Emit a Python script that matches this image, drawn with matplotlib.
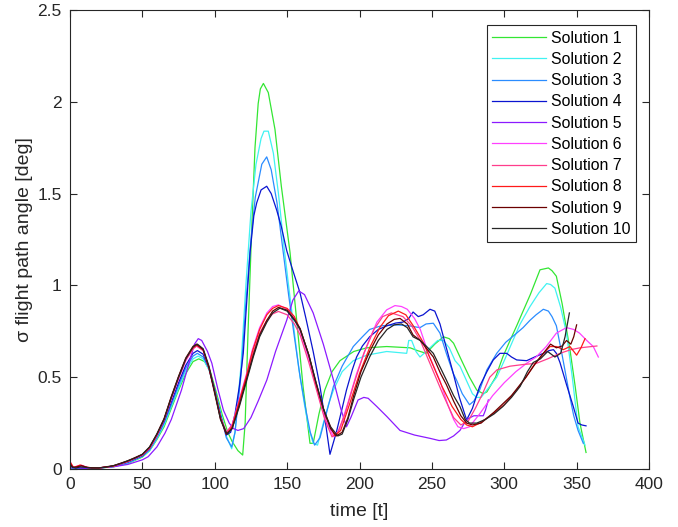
import matplotlib.pyplot as plt

plt.rcParams['font.family'] = ['Liberation Sans', 'DejaVu Sans']

# (time, sigma) pairs
sol1 = [(0, 0.005), (10, 0.004), (20, 0.005), (30, 0.012), (40, 0.03), (50, 0.065), (55, 0.10), (60, 0.16),
        (65, 0.23), (70, 0.33), (75, 0.43), (80, 0.52), (85, 0.585), (89, 0.60), (93, 0.585), (97, 0.53),
        (101, 0.42), (105, 0.30), (109, 0.20), (112, 0.15), (116, 0.10), (119.3, 0.076), (121, 0.25),
        (123, 0.75), (125.5, 1.30), (127.8, 1.75), (130, 1.99), (131.5, 2.07), (133.6, 2.10), (137, 2.05),
        (141.6, 1.85), (146, 1.54), (152, 1.18), (156.6, 0.81), (161, 0.45), (165.8, 0.14), (168, 0.14),
        (172, 0.30), (176, 0.43), (181, 0.53), (186.5, 0.59), (196, 0.64), (205, 0.66), (218.8, 0.667),
        (235, 0.66), (240, 0.645), (246, 0.63), (252, 0.68), (258, 0.72), (262, 0.71), (265, 0.685),
        (270, 0.60), (276, 0.50), (281, 0.43), (285.5, 0.41), (288, 0.42), (294, 0.50), (299, 0.61),
        (304, 0.70), (308.6, 0.78), (313, 0.86), (318, 0.95), (324.7, 1.085), (330.5, 1.095), (333, 1.08),
        (336, 1.05), (340, 0.90), (345.4, 0.65), (349, 0.45), (352.3, 0.25), (356.5, 0.09)]

sol2 = [(0, 0.005), (10, 0.004), (20, 0.005), (30, 0.013), (40, 0.032), (50, 0.068), (55, 0.10), (60, 0.165),
        (65, 0.24), (70, 0.34), (75, 0.44), (80, 0.535), (85, 0.60), (88.5, 0.615), (92, 0.60), (96, 0.54),
        (100, 0.43), (104, 0.31), (108, 0.18), (111.7, 0.11), (114, 0.20), (118, 0.55), (121.5, 1.0),
        (125, 1.40), (128.5, 1.66), (132, 1.80), (134, 1.84), (137, 1.84), (140.5, 1.72), (144, 1.50),
        (148, 1.20), (151, 1.00), (154, 0.81), (158, 0.55), (162, 0.35), (165, 0.22), (168, 0.14),
        (171, 0.13), (175, 0.25), (178.5, 0.35), (182, 0.43), (188, 0.53), (195.7, 0.59), (205, 0.62),
        (218.8, 0.64), (232.6, 0.63), (234, 0.70), (236, 0.70), (239, 0.64), (241.8, 0.61), (246, 0.64),
        (250, 0.67), (254, 0.70), (258, 0.70), (262, 0.66), (266, 0.59), (269.4, 0.56), (274, 0.48),
        (278, 0.41), (281, 0.39), (284, 0.39), (289, 0.44), (294.8, 0.50), (300, 0.59), (306, 0.70),
        (311, 0.79), (317.8, 0.885), (324, 0.96), (329.3, 1.01), (332, 1.005), (335, 0.985), (339, 0.88),
        (343, 0.74), (347, 0.50), (351, 0.23), (355.8, 0.13)]

sol3 = [(0, 0.006), (10, 0.004), (20, 0.005), (30, 0.014), (40, 0.035), (50, 0.07), (55, 0.105), (60, 0.17),
        (65, 0.25), (70, 0.35), (75, 0.455), (80, 0.55), (85, 0.615), (88, 0.63), (92, 0.61), (96, 0.55),
        (100, 0.43), (104, 0.30), (108, 0.17), (111.7, 0.12), (114, 0.20), (118, 0.50), (121.5, 0.90),
        (125, 1.25), (128, 1.48), (132.5, 1.66), (135.9, 1.70), (139, 1.63), (143, 1.45), (147, 1.20),
        (151, 0.95), (155, 0.72), (159, 0.50), (163, 0.32), (166, 0.20), (169, 0.13), (172.7, 0.17),
        (177, 0.30), (182, 0.45), (188, 0.56), (195.7, 0.667), (202, 0.72), (207, 0.76), (215, 0.78),
        (225.7, 0.785), (234, 0.78), (241.8, 0.77), (246, 0.79), (251, 0.794), (255.6, 0.74), (260, 0.63),
        (264.8, 0.52), (267, 0.485), (271, 0.41), (276, 0.35), (279, 0.37), (283, 0.43), (288, 0.54),
        (294.8, 0.63), (301, 0.69), (308.6, 0.74), (313, 0.77), (317.8, 0.81), (322, 0.84), (327, 0.87),
        (330.5, 0.86), (333, 0.83), (336, 0.78), (340, 0.62), (345.4, 0.39), (348, 0.29), (351, 0.21),
        (354.6, 0.14)]

sol4 = [(0, 0.008), (10, 0.005), (20, 0.006), (30, 0.015), (40, 0.038), (50, 0.072), (55, 0.11), (60, 0.18),
        (65, 0.26), (70, 0.365), (75, 0.47), (80, 0.565), (85, 0.63), (88, 0.645), (92, 0.625), (96, 0.55),
        (100, 0.43), (104, 0.29), (108, 0.185), (111, 0.20), (114, 0.30), (117, 0.45), (119.7, 0.63),
        (122, 0.90), (124.4, 1.18), (127, 1.38), (129, 1.45), (132, 1.52), (135.9, 1.54), (139, 1.50),
        (142.8, 1.41), (146, 1.32), (149.7, 1.19), (154, 1.08), (158.9, 0.96), (163, 0.82), (168, 0.64),
        (172.7, 0.45), (176, 0.28), (179.6, 0.08), (184, 0.20), (188, 0.33), (191, 0.43), (195, 0.54),
        (198, 0.61), (202, 0.67), (207, 0.72), (213, 0.76), (219, 0.78), (225, 0.795), (230, 0.80),
        (234, 0.82), (237, 0.855), (240.6, 0.83), (244, 0.84), (248.7, 0.87), (252, 0.86), (255.6, 0.79),
        (260, 0.66), (264.8, 0.52), (269, 0.39), (274, 0.267), (278, 0.33), (283, 0.45), (288, 0.53),
        (292.4, 0.594), (297, 0.63), (301.7, 0.63), (305, 0.61), (308.6, 0.594), (315.5, 0.59), (321, 0.61),
        (327, 0.63), (331, 0.645), (334, 0.65), (336, 0.63), (338.5, 0.58), (343, 0.46), (347.7, 0.34),
        (351, 0.25), (353.5, 0.24), (356.5, 0.235)]

sol5 = [(0, 0.008), (10, 0.005), (20, 0.006), (30, 0.012), (40, 0.025), (50, 0.05), (54, 0.067), (60, 0.12),
        (65.6, 0.195), (70, 0.27), (77, 0.43), (82, 0.57), (86, 0.68), (88.6, 0.71), (91, 0.70), (95, 0.64),
        (98, 0.576), (102, 0.44), (106, 0.32), (110, 0.25), (113, 0.22), (116, 0.21), (120, 0.22),
        (125, 0.28), (130, 0.37), (136, 0.485), (142, 0.64), (149.7, 0.81), (154, 0.92), (158, 0.97),
        (162, 0.95), (168, 0.85), (175, 0.68), (182, 0.485), (187, 0.33), (191, 0.23), (194, 0.28),
        (199, 0.376), (203, 0.39), (206, 0.385), (212, 0.34), (219, 0.285), (228, 0.21), (238, 0.185),
        (248.7, 0.167), (255, 0.155), (260, 0.158), (265, 0.18), (269.4, 0.21), (274, 0.27), (279, 0.29),
        (285.5, 0.29), (287, 0.32), (289, 0.376)]

sol6 = [(0, 0.04), (2, 0.01), (5, 0.015), (8, 0.02), (12, 0.008), (20, 0.005), (30, 0.016), (40, 0.04),
        (50, 0.075), (55, 0.112), (60, 0.18), (65, 0.265), (70, 0.38), (75, 0.49), (80, 0.59), (85, 0.655),
        (87.5, 0.67), (92, 0.645), (96, 0.55), (100, 0.42), (104, 0.28), (108, 0.20), (112, 0.24),
        (117, 0.38), (122, 0.52), (126, 0.65), (131, 0.77), (136, 0.85), (140, 0.885), (144, 0.894),
        (150, 0.87), (155, 0.82), (159, 0.75), (165, 0.60), (170, 0.45), (176, 0.28), (182, 0.176),
        (186, 0.21), (192, 0.36), (198, 0.52), (205, 0.67), (212, 0.80), (218.8, 0.867), (224.5, 0.89),
        (229, 0.885), (233, 0.87), (238, 0.82), (242, 0.76), (248, 0.62), (255.6, 0.48), (261, 0.35),
        (265, 0.27), (268, 0.23), (272, 0.22), (276, 0.23), (283, 0.30), (292, 0.40), (300, 0.47),
        (308, 0.53), (315.5, 0.576), (322, 0.61), (329, 0.667), (336, 0.74), (343, 0.77), (348, 0.76),
        (352, 0.74), (357, 0.70), (361.5, 0.667), (365, 0.61)]

sol7 = [(0, 0.035), (2, 0.01), (5, 0.014), (8, 0.02), (12, 0.008), (20, 0.005), (30, 0.016), (40, 0.042),
        (50, 0.077), (55, 0.115), (60, 0.185), (65, 0.27), (70, 0.385), (75, 0.495), (80, 0.595),
        (85, 0.655), (87.5, 0.67), (92, 0.645), (96, 0.55), (100, 0.42), (104, 0.28), (108, 0.20),
        (112, 0.24), (117, 0.37), (122, 0.50), (126, 0.62), (131, 0.74), (136, 0.81), (140, 0.845),
        (144, 0.858), (150, 0.84), (155, 0.79), (159, 0.73), (165, 0.58), (170, 0.44), (176, 0.27),
        (181, 0.175), (185, 0.20), (190, 0.30), (196, 0.46), (203, 0.63), (210, 0.76), (216, 0.83),
        (222, 0.85), (230, 0.83), (236, 0.78), (242, 0.70), (250, 0.55), (258, 0.40), (265, 0.28),
        (270, 0.24), (275, 0.26), (280, 0.33), (285, 0.41), (290, 0.50), (295, 0.54), (304, 0.56),
        (314, 0.57), (322, 0.575), (330, 0.60), (338.5, 0.63), (346, 0.65), (352.3, 0.66), (358, 0.665),
        (364, 0.67)]

sol8 = [(0, 0.04), (1.5, 0.02), (2.5, 0.008), (5, 0.015), (7, 0.022), (10, 0.012), (15, 0.006), (20, 0.006),
        (30, 0.016), (40, 0.042), (50, 0.078), (55, 0.115), (60, 0.185), (65, 0.27), (70, 0.39), (75, 0.50),
        (80, 0.60), (85, 0.66), (87.5, 0.675), (92, 0.65), (96, 0.555), (100, 0.42), (104, 0.28),
        (108, 0.19), (112, 0.23), (117, 0.37), (122, 0.51), (126, 0.64), (131, 0.76), (136, 0.84),
        (140, 0.875), (144, 0.89), (150, 0.875), (155, 0.83), (159, 0.76), (165, 0.62), (170, 0.46),
        (177, 0.28), (183, 0.18), (187, 0.21), (193, 0.35), (200, 0.52), (207, 0.66), (214, 0.77),
        (220, 0.835), (226.8, 0.86), (232, 0.84), (238, 0.77), (244, 0.69), (250, 0.58), (257, 0.45),
        (264, 0.34), (270, 0.27), (274, 0.24), (278, 0.23), (283, 0.25), (292, 0.30), (300, 0.35),
        (308.6, 0.43), (315, 0.50), (320, 0.56), (326, 0.62), (331.6, 0.667), (336, 0.667), (340.8, 0.65),
        (345.4, 0.667), (350, 0.62), (353, 0.66), (355.8, 0.71)]

sol9 = [(0, 0.03), (2, 0.008), (5, 0.012), (8, 0.018), (12, 0.008), (20, 0.006), (30, 0.018), (40, 0.045),
        (50, 0.08), (55, 0.12), (60, 0.19), (65, 0.275), (70, 0.395), (75, 0.505), (80, 0.605), (85, 0.668),
        (87.5, 0.68), (92, 0.65), (96, 0.55), (100, 0.41), (104, 0.27), (108, 0.19), (112, 0.22),
        (117, 0.35), (122, 0.49), (126.6, 0.62), (131, 0.73), (136, 0.81), (140, 0.86), (144, 0.88),
        (150, 0.865), (155, 0.815), (159, 0.765), (165, 0.62), (170, 0.47), (175, 0.33), (180, 0.22),
        (184, 0.18), (188, 0.20), (192, 0.28), (196, 0.40), (201, 0.53), (207, 0.64), (213, 0.73),
        (219, 0.79), (224, 0.815), (228, 0.82), (233, 0.79), (237, 0.73), (242, 0.70), (246, 0.66),
        (251, 0.61), (256, 0.52), (260, 0.46), (265, 0.37), (270, 0.29), (274, 0.25), (278, 0.24),
        (284, 0.25), (293, 0.31), (305, 0.40), (315, 0.50), (322, 0.58), (328, 0.64), (332, 0.68),
        (336, 0.66), (340, 0.67), (343, 0.70), (346, 0.68), (348, 0.72), (350, 0.785)]

sol10 = [(0, 0.02), (2, 0.01), (4, 0.005), (7, 0.012), (10, 0.01), (15, 0.005), (20, 0.006), (25, 0.01),
         (30, 0.018), (35, 0.03), (40, 0.045), (45, 0.06), (50, 0.08), (55, 0.12), (60, 0.19), (65, 0.27),
         (70, 0.39), (75, 0.50), (80, 0.60), (85, 0.665), (88, 0.68), (92, 0.655), (96, 0.56), (100, 0.42),
         (104, 0.27), (108.5, 0.19), (112, 0.22), (117, 0.34), (122, 0.48), (126.6, 0.61), (131, 0.72),
         (136, 0.80), (140, 0.85), (145, 0.876), (150, 0.86), (155, 0.81), (159, 0.76), (165, 0.62),
         (170, 0.47), (175, 0.33), (180, 0.23), (185, 0.18), (188, 0.19), (192, 0.27), (196, 0.38),
         (201, 0.50), (207, 0.61), (213, 0.70), (219, 0.76), (224, 0.785), (229, 0.79), (233, 0.77),
         (237, 0.72), (242, 0.70), (246, 0.67), (251, 0.63), (256, 0.55), (260, 0.485), (265, 0.40),
         (269.4, 0.34), (273, 0.27), (276, 0.25), (281, 0.25), (287, 0.27), (293, 0.30), (299, 0.34),
         (305, 0.39), (311, 0.45), (316, 0.53), (320, 0.58), (325, 0.60), (330, 0.64), (335, 0.61),
         (339, 0.63), (342, 0.72), (345, 0.85)]

series = [sol1, sol2, sol3, sol4, sol5, sol6, sol7, sol8, sol9, sol10]
names = ['Solution %d' % (i + 1) for i in range(10)]
colors = ['#33e633', '#40f2f2', '#2a8cff', '#0a14d0', '#8c1aff',
          '#ff40ff', '#ff3d8c', '#ff1a1a', '#6b0000', '#262626']

xticks = [0, 50, 100, 150, 200, 250, 300, 350, 400]
yticks = [0, 0.5, 1, 1.5, 2, 2.5]
ytick_labels = ['0', '0.5', '1', '1.5', '2', '2.5']

fig = plt.figure(figsize=(6.78, 5.27), dpi=100)
ax = fig.add_axes([70 / 678, 58 / 527, 579 / 678, 459 / 527])

for data, name, c in zip(series, names, colors):
    t = [p[0] for p in data]
    v = [p[1] for p in data]
    ax.plot(t, v, color=c, lw=0.9, label=name)

ax.set_xlim(0, 400)
ax.set_ylim(0, 2.5)
ax.set_xticks(xticks)
ax.set_xticklabels([str(x) for x in xticks])
ax.set_yticks(yticks)
ax.set_yticklabels(ytick_labels)
ax.tick_params(direction='in', top=True, right=True, length=5, width=0.8,
               color='#262626', labelcolor='#262626', labelsize=12.5, pad=6)
for s in ax.spines.values():
    s.set_color('#262626')
    s.set_linewidth(0.8)

ax.set_xlabel('time [t]', fontsize=14, color='#262626')
ax.set_ylabel('σ flight path angle [deg]', fontsize=14, color='#262626')
ax.xaxis.set_label_coords(0.5, -0.074)
ax.yaxis.set_label_coords(-0.064, 0.5)

leg = ax.legend(loc='upper right', bbox_to_anchor=(636 / 678, 502 / 527),
                bbox_transform=fig.transFigure, borderaxespad=0, fontsize=11.4,
                fancybox=False, framealpha=1, edgecolor='#262626',
                handlelength=3.4, handletextpad=0.3, labelspacing=0.395, borderpad=0.35)
leg.get_frame().set_linewidth(0.8)

fig.savefig('out.png', dpi=100)
